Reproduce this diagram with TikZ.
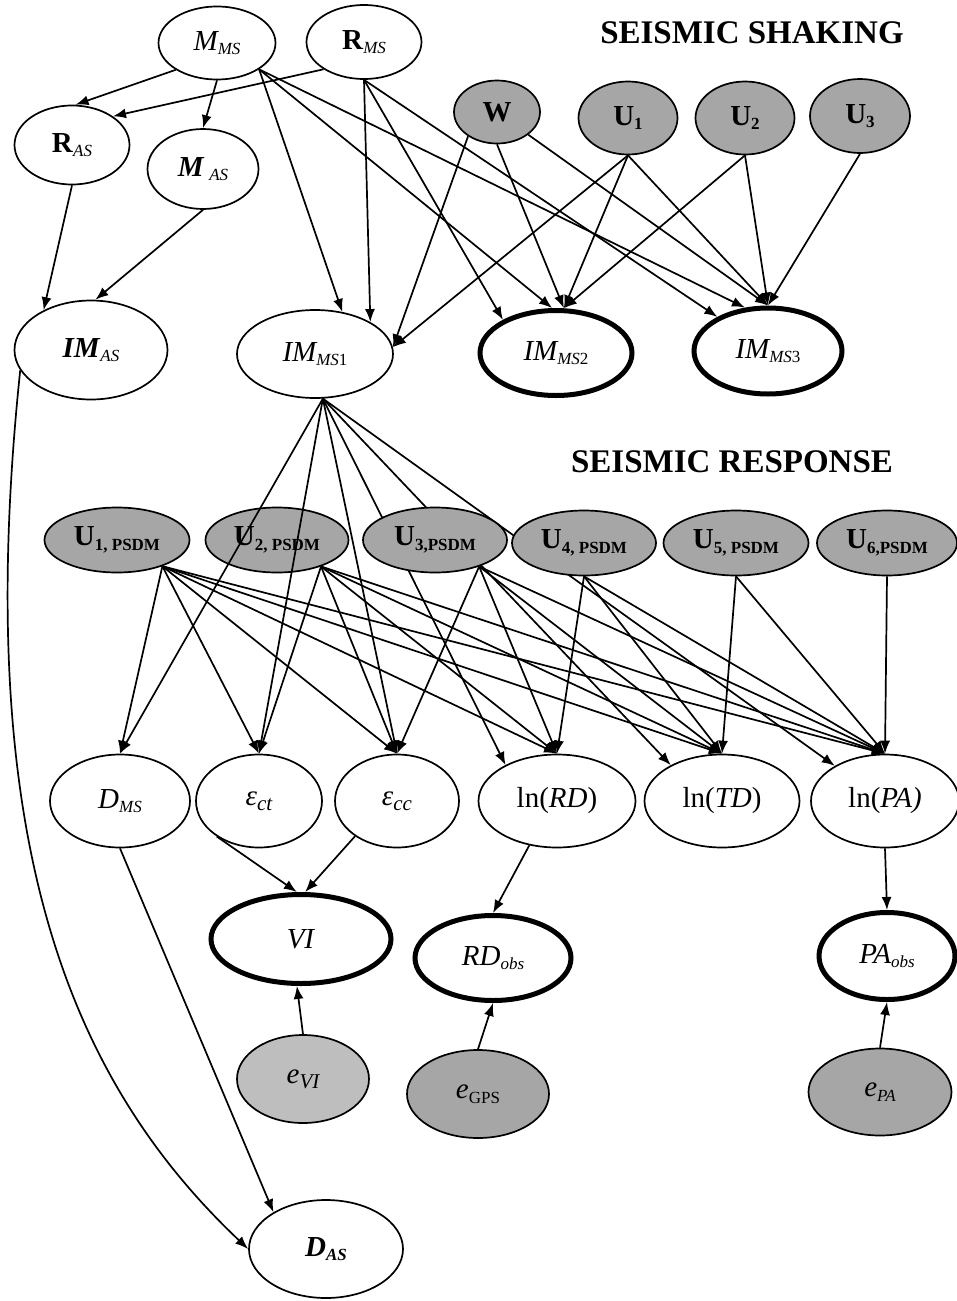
\documentclass[tikz,border=0pt]{standalone}
\usepackage{fontspec}
\setmainfont{Liberation Serif}
\usetikzlibrary{arrows.meta,positioning,shapes.geometric,backgrounds}
\definecolor{ink}{HTML}{000000}
\definecolor{noise}{HTML}{A6A6A6}
\definecolor{noiselt}{HTML}{BEBEBE}
\newcommand{\sbs}[1]{\raisebox{-0.35ex}{\fontsize{17}{17}\selectfont #1}}
\newcommand{\sbl}[1]{\raisebox{-0.35ex}{\fontsize{21}{21}\selectfont #1}}
\tikzset{
  >=Latex,
  every node/.style={text=ink},
  var/.style={ellipse,draw=ink,line width=1.7pt,fill=white,inner sep=0pt,font=\fontsize{29}{32}\selectfont},
  noisevar/.style={var,fill=noise},
  obsvar/.style={var,line width=5pt},
  title/.style={font=\fontsize{33}{36}\selectfont\bfseries},
  arrow/.style={-{Latex[length=13pt,width=10pt]},line width=1.7pt,draw=ink},
}
\begin{document}
\begin{tikzpicture}[x=1pt,y=-1pt]
\useasboundingbox (0,0) rectangle (956,1301);

% titles
\node[title] (tshake) at (752,33) {SEISMIC SHAKING};
\node[title] (tresp) at (732,462) {SEISMIC RESPONSE};

% seismic shaking
\node[var,minimum width=117pt,minimum height=73pt] (mms) at (217,43) {\textit{M\sbs{MS}}};
\node[var,minimum width=115pt,minimum height=74pt] (rms) at (364,42) {\textbf{R}\sbs{\textit{MS}}};
\node[noisevar,minimum width=86pt,minimum height=63pt] (w) at (497,112) {\textbf{W}};
\node[noisevar,minimum width=99pt,minimum height=73pt] (u1) at (628,118) {\textbf{U\sbs{1}}};
\node[noisevar,minimum width=99pt,minimum height=73pt] (u2) at (745,118) {\textbf{U\sbs{2}}};
\node[noisevar,minimum width=100pt,minimum height=74pt] (u3) at (860,116) {\textbf{U\sbs{3}}};
\node[var,minimum width=115pt,minimum height=79pt] (ras) at (72,145) {\textbf{R}\sbs{\textit{AS}}};
\node[var,minimum width=111pt,minimum height=80pt] (mas) at (203,169) {\textbf{\textit{M}}\,\sbs{\textit{AS}}};
\node[var,minimum width=153pt,minimum height=99pt] (imas) at (91,350) {\textbf{\textit{IM}}\sbs{\textit{AS}}};
\node[var,minimum width=156pt,minimum height=88pt] (imms1) at (315,354) {\textit{IM\sbs{MS}}\sbs{1}};
\node[obsvar,minimum width=152pt,minimum height=85pt] (imms2) at (556,353) {\textit{IM\sbs{MS}}\sbs{2}};
\node[obsvar,minimum width=148pt,minimum height=86pt] (imms3) at (768,351) {\textit{IM\sbs{MS}}\sbs{3}};

% model errors of the PSDMs
\node[noisevar,minimum width=145pt,minimum height=65pt] (u1p) at (117,540) {\textbf{U\sbs{1, PSDM}}};
\node[noisevar,minimum width=143pt,minimum height=65pt] (u2p) at (277,540) {\textbf{U\sbs{2, PSDM}}};
\node[noisevar,minimum width=144pt,minimum height=65pt] (u3p) at (435,540) {\textbf{U\sbs{3,PSDM}}};
\node[noisevar,minimum width=144pt,minimum height=65pt] (u4p) at (584,543) {\textbf{U\sbs{4, PSDM}}};
\node[noisevar,minimum width=145pt,minimum height=65pt] (u5p) at (736,543) {\textbf{U\sbs{5, PSDM}}};
\node[noisevar,minimum width=140pt,minimum height=65pt] (u6p) at (887,543) {\textbf{U\sbs{6,PSDM}}};

% seismic response
\node[var,minimum width=140pt,minimum height=93pt] (dms) at (120,801) {\textit{D\sbs{MS}}};
\node[var,minimum width=126pt,minimum height=93pt] (ect) at (259,801) {\textit{ε\sbl{ct}}};
\node[var,minimum width=124pt,minimum height=93pt] (ecc) at (397,801) {\textit{ε\sbl{cc}}};
\node[var,minimum width=157pt,minimum height=93pt] (lnrd) at (557,801) {ln(\textit{RD})};
\node[var,minimum width=155pt,minimum height=93pt] (lntd) at (722,801) {ln(\textit{TD})};
\node[var,minimum width=148pt,minimum height=93pt] (lnpa) at (885,801) {ln(\textit{PA)}};
\node[obsvar,minimum width=180pt,minimum height=89pt] (vi) at (301,939) {\textit{VI}};
\node[obsvar,minimum width=156pt,minimum height=85pt] (rdobs) at (493,958) {\textit{RD\sbs{obs}}};
\node[obsvar,minimum width=136pt,minimum height=87pt] (paobs) at (887,956) {\textit{PA\sbs{obs}}};
\node[noisevar,fill=noiselt,minimum width=132pt,minimum height=88pt] (evi) at (303,1079) {\textit{e\sbl{VI}}};
\node[noisevar,minimum width=142pt,minimum height=88pt] (egps) at (478,1094) {\textit{e}\sbs{GPS}};
\node[noisevar,minimum width=143pt,minimum height=87pt] (epa) at (880,1092) {\textit{e\sbs{PA}}};
\node[var,minimum width=154pt,minimum height=98pt] (das) at (326,1249) {\textbf{\textit{D\sbs{AS}}}};

% shaking links
\draw[arrow] (mms.-147) -- (ras.85);
\draw[arrow] (rms.-146) -- (ras.35);
\draw[arrow] (mms.south) -- (mas.north);
\draw[arrow] (mms.-32) -- (imms1.57);
\draw[arrow] (mms.-32) -- (imms2.95);
\draw[arrow] (mms.-32) -- (imms3.118);
\draw[arrow] (rms.south) -- (imms1.30);
\draw[arrow] (rms.south) -- (imms2.148);
\draw[arrow] (rms.south) -- (imms3.146);
\draw[arrow] (w.-140) -- (imms1.5);
\draw[arrow] (w.south) -- (imms2.80);
\draw[arrow] (w.-36) -- (imms3.north);
\draw[arrow] (u1.south) -- (imms1.5);
\foreach \src in {u1,u2} {\draw[arrow] (\src.south) -- (imms2.80);}
\foreach \src in {u1,u2,u3} {\draw[arrow] (\src.south) -- (imms3.north);}
\draw[arrow] (ras.south) -- (imas.140);
\draw[arrow] (mas.south) -- (imas.85);

% aftershock damage
\draw[arrow] (imas.196) .. controls (-30,850) and (75,1085) .. (das.west);
\draw[arrow] (dms.south) -- (das.145);

% IM_MS1 into the responses
\foreach \tg in {dms,ect,ecc} {\draw[arrow] (imms1.-80) -- (\tg.north);}
\begin{scope}[on background layer]
\foreach \tg in {lnrd,lntd,lnpa} {\draw[arrow] (imms1.-80) -- (\tg.145);}
\end{scope}

% PSDM errors
\foreach \tg in {dms,ect,ecc,lnrd,lntd,lnpa} {\draw[arrow] (u1p.-30) -- (\tg.north);}
\foreach \tg in {ect,ecc,lnrd,lntd,lnpa} {\draw[arrow] (u2p.-31) -- (\tg.north);}
\foreach \tg in {ecc,lnrd,lntd,lnpa} {\draw[arrow] (u3p.-31) -- (\tg.north);}
\foreach \tg in {lnrd,lntd,lnpa} {\draw[arrow] (u4p.south) -- (\tg.north);}
\foreach \tg in {lntd,lnpa} {\draw[arrow] (u5p.south) -- (\tg.north);}
\draw[arrow] (u6p.south) -- (lnpa.north);

% observations
\draw[arrow] (ect.-140) -- (vi.95);
\draw[arrow] (ecc.-140) -- (vi.85);
\draw[arrow] (lnrd.-122) -- (rdobs.north);
\draw[arrow] (lnpa.south) -- (paobs.north);
\draw[arrow] (evi.north) -- (vi.-95);
\draw[arrow] (egps.north) -- (rdobs.south);
\draw[arrow] (epa.north) -- (paobs.south);

\end{tikzpicture}
\end{document}
